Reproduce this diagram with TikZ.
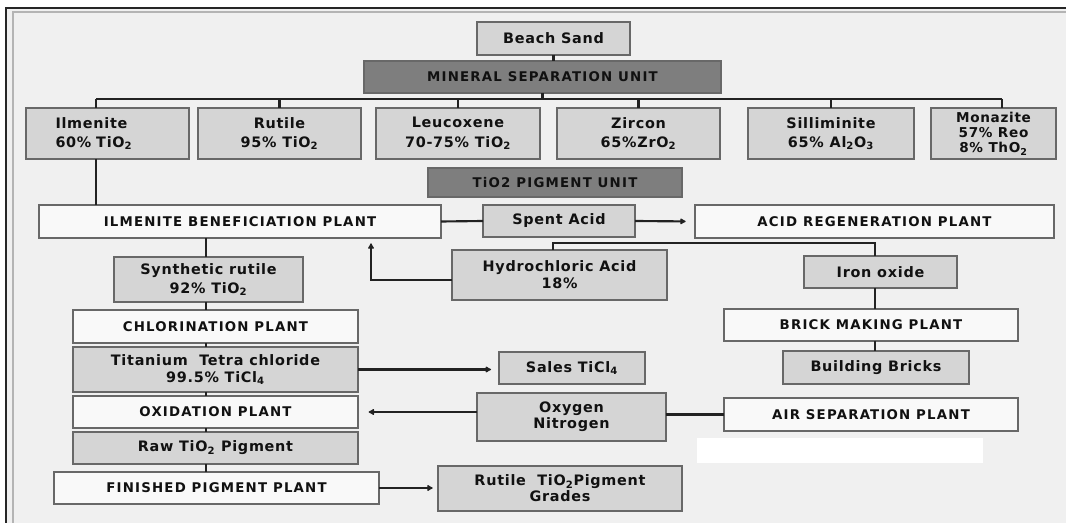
\documentclass[tikz,border=0pt]{standalone}
\usepackage{fontspec}
\usetikzlibrary{arrows.meta}

% label faces: heavy, slightly tracked sans
\newfontfamily\labfont{DejaVu Sans}[LetterSpace=5]
\newfontfamily\capfont{DejaVu Sans}[LetterSpace=9]
\newcommand\lblx[1]{\labfont\bfseries\fontsize{10.8}{#1}\selectfont}
\newcommand\lblsmall{\labfont\bfseries\fontsize{10.2}{11.5}\selectfont}
\newcommand\capslbl{\capfont\bfseries\fontsize{10}{12}\selectfont}
\newcommand\sub[1]{\textsubscript{#1}}

\definecolor{pagebg}{HTML}{F0F0F0}
\definecolor{rimgrey}{HTML}{B4B4B4}
\definecolor{boxgrey}{HTML}{D5D5D5}
\definecolor{boxdark}{HTML}{7E7E7E}
\definecolor{boxpale}{HTML}{F9F9F9}
\definecolor{boxline}{HTML}{686868}
\definecolor{ink}{HTML}{111111}
\definecolor{wire}{HTML}{222222}

\tikzset{
  basebox/.style={draw=boxline, line width=1.4pt, inner sep=0pt, outer sep=0pt, text=ink, align=center},
  grey/.style={basebox, fill=boxgrey, font=\lblx{13.5}},
  dark/.style={basebox, fill=boxdark, font=\capslbl},
  plant/.style={basebox, fill=boxpale, font=\capslbl},
  link/.style={draw=wire, line width=1.6pt},
  flow/.style={link, -{Latex[length=5pt,width=5.5pt,round]}, shorten >=5pt},
}

% \bx{name}{style}{left}{top}{right}{bottom}{text}, pixel units, y downwards
\newcommand\bx[7]{%
  \node[#2, minimum width={(#5-#3)*0.75pt}, minimum height={(#6-#4)*0.75pt}]
    (#1) at ({(#3+#5)/2},{(#4+#6)/2}) {#7};}

\begin{document}
\begin{tikzpicture}[x=0.75pt,y=-0.75pt]
\useasboundingbox (0,0) rectangle (1066,523);

% page frame
\fill[white] (0,0) rectangle (1066,523);
\fill[pagebg] (7,9) rectangle (1066,523);
\draw[rimgrey, line width=1.5pt] (13,523) -- (13,12) -- (1066,12);
\draw[black!85, line width=2.2pt] (6,523) -- (6,8) -- (1066,8);
\fill[white] (697,438) rectangle (983,463);

% source and separation
\bx{bs}{grey}{477}{22}{630}{55}{Beach Sand}
\bx{msu}{dark}{364}{61}{721}{93}{MINERAL SEPARATION UNIT}

% separated minerals
\bx{il}{grey, font=\lblx{14.5}, align=left, text width=78pt}{26}{108}{189}{159}{Ilmenite\\60\% TiO\sub{2}}
\bx{ru}{grey, font=\lblx{14.5}}{198}{108}{361}{159}{Rutile\\95\% TiO\sub{2}}
\bx{le}{grey, font=\lblx{14.5}}{376}{108}{540}{159}{Leucoxene\\70-75\% TiO\sub{2}}
\bx{zi}{grey, font=\lblx{14.5}}{557}{108}{720}{159}{Zircon\\65\%ZrO\sub{2}}
\bx{si}{grey, font=\lblx{14.5}}{748}{108}{914}{159}{Silliminite\\65\% Al\sub{2}O\sub{3}}
\bx{mo}{grey, font=\lblsmall}{931}{108}{1056}{159}{Monazite\\57\% Reo\\8\% ThO\sub{2}}

\bx{tpu}{dark}{428}{168}{682}{197}{TiO2 PIGMENT UNIT}

% beneficiation and acid loop
\bx{ibp}{plant}{39}{205}{441}{238}{ILMENITE BENEFICIATION PLANT}
\bx{sa}{grey}{483}{205}{635}{237}{Spent Acid}
\bx{arp}{plant}{695}{205}{1054}{238}{ACID REGENERATION PLANT}
\bx{hcl}{grey, font=\lblx{12.8}}{452}{250}{667}{300}{Hydrochloric Acid\\18\%}
\bx{io}{grey}{804}{256}{957}{288}{Iron oxide}
\bx{bmp}{plant}{724}{309}{1018}{341}{BRICK MAKING PLANT}
\bx{bb}{grey}{783}{351}{969}{384}{Building Bricks}

% chloride route
\bx{sr}{grey, font=\lblx{14.2}}{114}{257}{303}{302}{Synthetic rutile\\92\% TiO\sub{2}}
\bx{cp}{plant}{73}{310}{358}{343}{CHLORINATION PLANT}
\bx{tt}{grey, font=\lblx{13}}{73}{347}{358}{392}{Titanium\ \ Tetra chloride\\99.5\% TiCl\sub{4}}
\bx{st}{grey}{499}{352}{645}{384}{Sales TiCl\sub{4}}
\bx{op}{plant}{73}{396}{358}{428}{OXIDATION PLANT}
\bx{on}{grey, font=\lblx{11.8}}{477}{393}{666}{441}{Oxygen\\Nitrogen}
\bx{asp}{plant}{724}{398}{1018}{431}{AIR SEPARATION PLANT}
\bx{rp}{grey}{73}{432}{358}{464}{Raw TiO\sub{2} Pigment}
\bx{fp}{plant}{54}{472}{379}{504}{FINISHED PIGMENT PLANT}
\bx{rg}{grey, font=\lblx{12}}{438}{466}{682}{511}{Rutile\ \ TiO\sub{2}Pigment\\Grades}

% bus and bend points
\coordinate (busL) at (96,99);
\coordinate (busR) at (1002,99);
\coordinate (accL) at (553,243);
\coordinate (accR) at (875,243);
\coordinate (hk) at (371,280);
\coordinate (spine) at (206,0);

% separation unit feeding the mineral row
\draw[link] (bs.south) -- (bs.south |- msu.north);
\draw[link] (msu.south) -- (msu.south |- busL);
\draw[link, line width=1.3pt] (busL) -- (busR);
\draw[link] (busL) -- (busL |- il.north);
\draw[link] (ru.north |- busL) -- (ru.north);
\draw[link] (le.north |- busL) -- (le.north);
\draw[link] (zi.north |- busL) -- (zi.north);
\draw[link] (si.north |- busL) -- (si.north);
\draw[link] (busR) -- (busR |- mo.north);

% ilmenite to beneficiation
\draw[link] (busL |- il.south) -- (busL |- ibp.north);

% acid circuit
\draw[link] (ibp.east) -- (sa.west);
\draw[flow, shorten >=7pt] (sa.east) -- (arp.west);
\draw[link] (accL |- hcl.north) -- (accL) -- (accR) -- (accR |- io.north);
\draw[flow, shorten >=4pt] (hcl.west |- hk) -- (hk) -- (hk |- ibp.south);
\draw[link] (accR |- io.south) -- (accR |- bmp.north);
\draw[link] (accR |- bmp.south) -- (accR |- bb.north);

% main process column
\draw[link] (spine |- ibp.south) -- (spine |- sr.north);
\draw[link] (spine |- sr.south) -- (spine |- cp.north);
\draw[link] (spine |- cp.south) -- (spine |- tt.north);
\draw[link] (spine |- tt.south) -- (spine |- op.north);
\draw[link] (spine |- op.south) -- (spine |- rp.north);
\draw[link] (spine |- rp.south) -- (spine |- fp.north);

% side streams
\draw[flow, shorten >=6pt] (tt.east) -- (tt.east -| st.west);
\draw[link] (asp.west) -- (asp.west -| on.east);
\draw[flow, shorten >=8pt] (on.west |- op.east) -- (op.east);
\draw[flow, shorten >=4pt] (fp.east) -- (fp.east -| rg.west);
\end{tikzpicture}
\end{document}
